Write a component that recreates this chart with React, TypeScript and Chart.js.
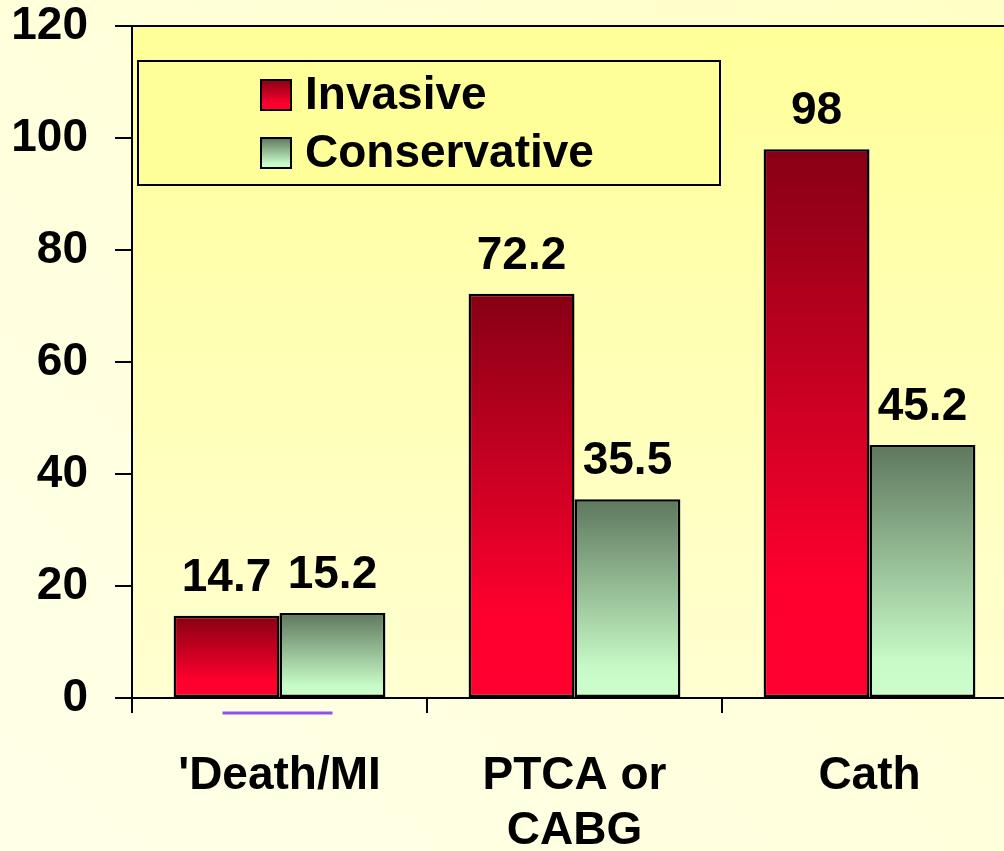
import React, { useEffect, useRef } from "react";
import { Chart, registerables } from "chart.js";

Chart.register(...registerables);

const categories = [["'Death/MI"], ["PTCA or", "CABG"], ["Cath"]];
const seriesNames = ["Invasive", "Conservative"];
const invasive = [14.7, 72.2, 98];
const conservative = [15.2, 35.5, 45.2];
const yTicks = [0, 20, 40, 60, 80, 100, 120];

const FONT = '"Liberation Sans", Arial, Helvetica, sans-serif';
const FONT_SIZE = 46;

const invasiveStops: [number, string][] = [
  [0, "#870014"],
  [0.8, "#FF002E"],
  [1, "#FF0030"],
];
const conservativeStops: [number, string][] = [
  [0, "#5E775E"],
  [0.85, "#C6FAC6"],
  [1, "#CCFFCC"],
];

function makeGradient(ctx: CanvasRenderingContext2D, top: number, bottom: number, stops: [number, string][]) {
  const g = ctx.createLinearGradient(0, top, 0, bottom);
  stops.forEach(([o, c]) => g.addColorStop(o, c));
  return g;
}

function barFill(stops: [number, string][]) {
  return (c: any) => {
    const chart = c.chart;
    if (!chart.chartArea || c.type !== "data") return stops[stops.length - 1][1];
    const v = c.parsed ? c.parsed.y : c.raw;
    const y = chart.scales.y;
    return makeGradient(chart.ctx, y.getPixelForValue(v), y.getPixelForValue(0), stops);
  };
}

const decorPlugin = {
  id: "decor",
  beforeDraw(chart: any) {
    const { ctx, chartArea: a } = chart;
    ctx.save();
    const g = ctx.createLinearGradient(0, a.top, 0, a.bottom);
    g.addColorStop(0, "#FFFF99");
    g.addColorStop(1, "#FFFFD2");
    ctx.fillStyle = g;
    ctx.fillRect(a.left, a.top, a.right - a.left, a.bottom - a.top);
    ctx.restore();
  },
  afterDraw(chart: any) {
    const { ctx, chartArea: a } = chart;
    ctx.save();
    // top frame line
    ctx.strokeStyle = "#000";
    ctx.lineWidth = 2;
    ctx.beginPath();
    ctx.moveTo(a.left, a.top);
    ctx.lineTo(a.right, a.top);
    ctx.stroke();

    // data labels
    ctx.fillStyle = "#000";
    ctx.font = `bold ${FONT_SIZE}px ${FONT}`;
    ctx.textAlign = "center";
    ctx.textBaseline = "alphabetic";
    chart.data.datasets.forEach((ds: any, di: number) => {
      const meta = chart.getDatasetMeta(di);
      meta.data.forEach((bar: any, i: number) => {
        ctx.fillText(String(ds.data[i]), bar.x, bar.y - 25);
      });
    });

    // legend box
    const lx = a.left + 6;
    const ly = a.top + 35;
    const lw = 582;
    const lh = 124;
    ctx.fillStyle = "#FFFF99";
    ctx.fillRect(lx, ly, lw, lh);
    ctx.strokeStyle = "#000";
    ctx.lineWidth = 2;
    ctx.strokeRect(lx, ly, lw, lh);
    const stopsList = [invasiveStops, conservativeStops];
    seriesNames.forEach((name, i) => {
      const sy = ly + 19 + i * 58;
      const sx = lx + 123;
      ctx.fillStyle = makeGradient(ctx, sy, sy + 30, stopsList[i]);
      ctx.fillRect(sx, sy, 30, 30);
      ctx.strokeStyle = "#000";
      ctx.lineWidth = 2;
      ctx.strokeRect(sx, sy, 30, 30);
      ctx.fillStyle = "#000";
      ctx.textAlign = "left";
      ctx.font = `bold ${FONT_SIZE}px ${FONT}`;
      ctx.fillText(name, lx + 167, sy + 29);
    });

    // purple underline under first category label
    const cx = chart.scales.x.getPixelForValue(0);
    ctx.strokeStyle = "#9050F0";
    ctx.lineWidth = 3;
    ctx.beginPath();
    ctx.moveTo(cx - 57, a.bottom + 15);
    ctx.lineTo(cx + 53, a.bottom + 15);
    ctx.stroke();
    ctx.restore();
  },
};

export default function App() {
  const ref = useRef<HTMLCanvasElement | null>(null);

  useEffect(() => {
    if (!ref.current) return;
    const chart = new Chart(ref.current, {
      type: "bar",
      data: {
        labels: categories as any,
        datasets: [
          {
            label: seriesNames[0],
            data: invasive,
            backgroundColor: barFill(invasiveStops),
            borderColor: "#000",
            borderWidth: 2.5,
            borderSkipped: false,
            barPercentage: 1,
            categoryPercentage: 0.718,
          },
          {
            label: seriesNames[1],
            data: conservative,
            backgroundColor: barFill(conservativeStops),
            borderColor: "#000",
            borderWidth: 2.5,
            borderSkipped: false,
            barPercentage: 1,
            categoryPercentage: 0.718,
          },
        ],
      },
      options: {
        responsive: false,
        animation: false,
        devicePixelRatio: 1,
        layout: { padding: { left: 0, top: 26, right: 13, bottom: 0 } },
        plugins: {
          legend: { display: false },
          tooltip: { enabled: false },
        },
        scales: {
          x: {
            type: "category",
            offset: true,
            grid: {
              display: true,
              offset: true,
              drawOnChartArea: false,
              drawTicks: true,
              tickLength: 15,
              color: "#000",
              lineWidth: 2,
            },
            border: { display: true, color: "#000", width: 2 },
            ticks: {
              color: "#000",
              font: { family: FONT, size: FONT_SIZE, weight: "bold", lineHeight: 1.2 },
              padding: 36,
              maxRotation: 0,
              autoSkip: false,
            },
            afterFit: (s: any) => {
              s.height = 153;
              s.paddingLeft = 0;
              s.paddingRight = 0;
            },
          },
          y: {
            min: 0,
            max: 120,
            afterBuildTicks: (s: any) => {
              s.ticks = yTicks.map((v) => ({ value: v }));
            },
            grid: {
              display: true,
              drawOnChartArea: false,
              drawTicks: true,
              tickLength: 17,
              color: "#000",
              lineWidth: 2,
            },
            border: { display: true, color: "#000", width: 2 },
            ticks: {
              color: "#000",
              font: { family: FONT, size: FONT_SIZE, weight: "bold" },
              padding: 27,
            },
            afterFit: (s: any) => {
              s.width = 132;
              s.paddingTop = 0;
              s.paddingBottom = 0;
            },
          },
        },
      } as any,
      plugins: [decorPlugin],
    });
    return () => chart.destroy();
  }, []);

  return (
    <div
      style={{
        position: "fixed",
        left: 0,
        top: 0,
        width: 1004,
        height: 851,
        overflow: "hidden",
        background: "linear-gradient(to bottom left, #FFFFC4 0%, #FFFFDC 50%, #FFFFE8 100%)",
      }}
    >
      <canvas ref={ref} width={1030} height={851} style={{ position: "absolute", left: 0, top: 0 }} />
    </div>
  );
}
